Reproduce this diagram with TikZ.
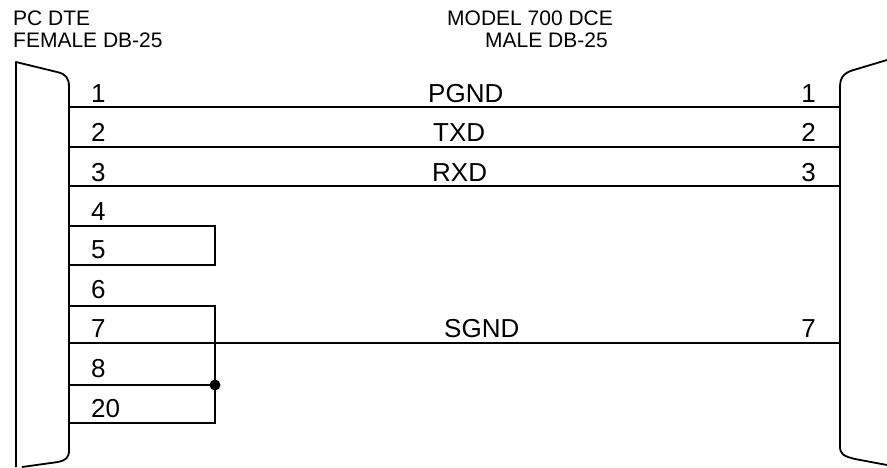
\documentclass[tikz,border=0pt]{standalone}
\usepackage{fontspec}
\setmainfont{Liberation Sans}
\begin{document}
\begin{tikzpicture}[x=1pt,y=-1pt,
  wire/.style={line width=1.6pt},
  shell/.style={line width=1.8pt, line join=round},
  pinlbl/.style={font=\fontsize{26}{28}\selectfont, inner sep=0pt},
  sig/.style={font=\fontsize{26}{28}\selectfont, inner sep=0pt, anchor=base west},
  head/.style={font=\fontsize{21}{24}\selectfont, inner sep=0pt, anchor=base west},
  joint/.style={circle, fill=black, inner sep=0pt, minimum size=11pt}]
\useasboundingbox (0,0) rectangle (887,467);
% headers
\node[head] (h1) at (13,25) {PC DTE};
\node[head] (h2) at (13,47) {FEMALE DB-25};
\node[head] (h3) at (447,25) {MODEL 700 DCE};
\node[head] (h4) at (485,47) {MALE DB-25};
% connector shells
\draw[shell] (16,467) -- (16,62) -- (57,72) .. controls (66,74) and (69,78) .. (69,87) -- (69,450) .. controls (69,458) and (66,460) .. (58,462) -- (22,467);
\draw[shell] (887,60) -- (857,69) .. controls (845,72) and (840,76) .. (840,87) -- (840,446) .. controls (840,454) and (843,456) .. (855,459) -- (887,465);
% coordinates
\coordinate (L1) at (69,107); \coordinate (R1) at (840,107);
\coordinate (L2) at (69,147); \coordinate (R2) at (840,147);
\coordinate (L3) at (69,186); \coordinate (R3) at (840,186);
\coordinate (L4) at (69,226); \coordinate (B4) at (215,226);
\coordinate (L5) at (69,265); \coordinate (B5) at (215,265);
\coordinate (L6) at (69,306); \coordinate (B6) at (215,306);
\coordinate (L7) at (69,343); \coordinate (R7) at (840,343);
\coordinate (L8) at (69,385);
\coordinate (L9) at (69,423); \coordinate (B9) at (215,423);
\node[joint] (J) at (215,385) {};
% wires
\draw[wire] (L1) -- (R1);
\draw[wire] (L2) -- (R2);
\draw[wire] (L3) -- (R3);
\draw[wire] (L4) -- (B4) -- (B5) -- (L5);
\draw[wire] (L6) -- (B6) -- (B9) -- (L9);
\draw[wire] (L7) -- (R7);
\draw[wire] (L8) -- (J.center);
% left pin numbers
\node[pinlbl, anchor=base west] (p1) at (91,102) {1};
\node[pinlbl, anchor=base west] (p2) at (91,141) {2};
\node[pinlbl, anchor=base west] (p3) at (91,181) {3};
\node[pinlbl, anchor=base west] (p4) at (91,220) {4};
\node[pinlbl, anchor=base west] (p5) at (91,258) {5};
\node[pinlbl, anchor=base west] (p6) at (91,298) {6};
\node[pinlbl, anchor=base west] (p7) at (91,337) {7};
\node[pinlbl, anchor=base west] (p8) at (91,377) {8};
\node[pinlbl, anchor=base west] (p20) at (91,417) {20};
% right pin numbers
\node[pinlbl, anchor=base east] (q1) at (816,102) {1};
\node[pinlbl, anchor=base east] (q2) at (816,141) {2};
\node[pinlbl, anchor=base east] (q3) at (816,181) {3};
\node[pinlbl, anchor=base east] (q7) at (816,337) {7};
% signal names
\node[sig] (s1) at (428,102) {PGND};
\node[sig] (s2) at (433,141) {TXD};
\node[sig] (s3) at (432,181) {RXD};
\node[sig] (s7) at (444,337) {SGND};
\end{tikzpicture}
\end{document}
